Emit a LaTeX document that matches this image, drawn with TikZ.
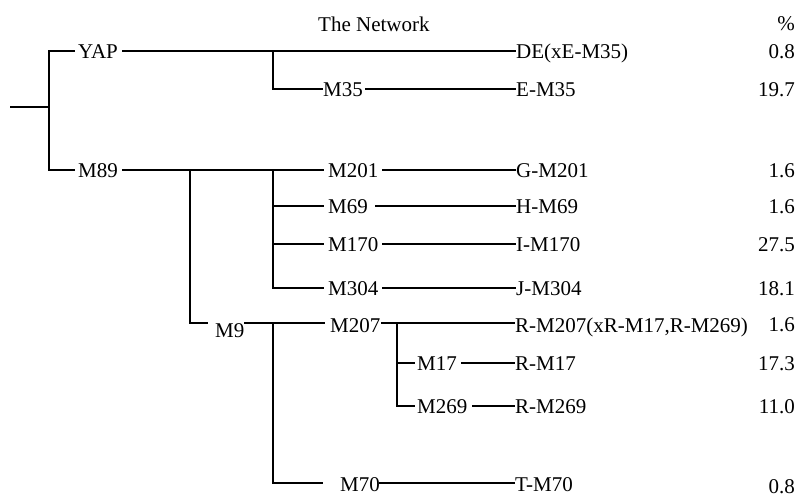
\documentclass[tikz,border=0pt]{standalone}
\usepackage{fontspec}
\setmainfont{Liberation Serif}
\begin{document}
\begin{tikzpicture}[x=1pt,y=-1pt,
  lbl/.style={inner xsep=0pt,inner ysep=0pt,text height=14pt,text depth=0pt,anchor=west,font=\fontsize{21}{25}\selectfont},
  pct/.style={inner xsep=0pt,inner ysep=0pt,text height=14pt,text depth=0pt,anchor=east,font=\fontsize{21}{25}\selectfont},
  br/.style={line width=1.6pt,line cap=rect}]
\useasboundingbox (0,0) rectangle (807,496);
% title and header
\node[lbl] (title) at (318,24) {The Network};
\node[pct] (pcthead) at (795,23) {\%};
% internal labels
\node[lbl] (YAP) at (78,51) {YAP};
\node[lbl] (M89) at (78,170) {M89};
\node[lbl] (M35) at (323,89) {M35};
\node[lbl] (M201) at (328,170) {M201};
\node[lbl] (M69) at (328,206) {M69};
\node[lbl] (M170) at (328,244) {M170};
\node[lbl] (M304) at (328,288) {M304};
\node[lbl] (M9) at (215,330) {M9};
\node[lbl] (M207) at (330,325) {M207};
\node[lbl] (M17) at (417,363) {M17};
\node[lbl] (M269) at (417,406) {M269};
\node[lbl] (M70) at (340,484) {M70};
% leaves
\node[lbl] (DE) at (516,51) {DE(xE-M35)};
\node[lbl] (EM35) at (516,89) {E-M35};
\node[lbl] (GM201) at (516,170) {G-M201};
\node[lbl] (HM69) at (516,206) {H-M69};
\node[lbl] (IM170) at (516,244) {I-M170};
\node[lbl] (JM304) at (516,288) {J-M304};
\node[lbl] (RM207) at (515,325) {R-M207(xR-M17,R-M269)};
\node[lbl] (RM17) at (515,363) {R-M17};
\node[lbl] (RM269) at (515,406) {R-M269};
\node[lbl] (TM70) at (515,484) {T-M70};
% percentages
\node[pct] (p1) at (795,51) {0.8};
\node[pct] (p2) at (795,89) {19.7};
\node[pct] (p3) at (795,170) {1.6};
\node[pct] (p4) at (795,206) {1.6};
\node[pct] (p5) at (795,244) {27.5};
\node[pct] (p6) at (795,288) {18.1};
\node[pct] (p7) at (795,324) {1.6};
\node[pct] (p8) at (795,363) {17.3};
\node[pct] (p9) at (795,406) {11.0};
\node[pct] (p10) at (795,486) {0.8};
% junction coordinates
\coordinate (root) at (11,107);
\coordinate (r0) at (49,107);
\coordinate (ra) at (49,51);
\coordinate (rb) at (49,170);
\coordinate (ya) at (273,51);
\coordinate (yb) at (273,89);
\coordinate (ma) at (190,170);
\coordinate (mb) at (190,323);
\coordinate (na) at (273,170);
\coordinate (n2) at (273,206);
\coordinate (n3) at (273,244);
\coordinate (nb) at (273,288);
\coordinate (ta) at (273,323);
\coordinate (tb) at (273,483);
\coordinate (sa) at (397,323);
\coordinate (s2) at (397,363);
\coordinate (sb) at (397,406);
% connectors
\draw[br] (root) -- (r0);
\draw[br] (ra) -- (rb);
\draw[br] (ra) -- ([xshift=-4pt]YAP.west);
\draw[br] (rb) -- ([xshift=-4pt]M89.west |- rb);
\draw[br] ([xshift=5pt]YAP.east |- ra) -- ([xshift=-1pt]DE.west |- ra);
\draw[br] (ya) -- (yb) -- ([xshift=-1pt]M35.west |- yb);
\draw[br] ([xshift=3pt]M35.east |- yb) -- ([xshift=-1pt]EM35.west |- yb);
\draw[br] ([xshift=5pt]M89.east |- rb) -- ([xshift=-5pt]M201.west |- rb);
\draw[br] ([xshift=4pt]M201.east |- rb) -- ([xshift=-1pt]GM201.west |- rb);
\draw[br] (ma) -- (mb) -- ([xshift=-8pt]M9.west |- mb);
\draw[br] (na) -- (nb) -- ([xshift=-5pt]M304.west |- nb);
\draw[br] (n2) -- ([xshift=-5pt]M69.west |- n2);
\draw[br] (n3) -- ([xshift=-5pt]M170.west |- n3);
\draw[br] ([xshift=8pt]M69.east |- n2) -- ([xshift=-1pt]HM69.west |- n2);
\draw[br] ([xshift=4pt]M170.east |- n3) -- ([xshift=-1pt]IM170.west |- n3);
\draw[br] ([xshift=4pt]M304.east |- nb) -- ([xshift=-1pt]JM304.west |- nb);
\draw[br] (M9.east |- mb) -- ([xshift=-6pt]M207.west |- mb);
\draw[br] ([xshift=1pt]M207.east |- sa) -- ([xshift=-1pt]RM207.west |- sa);
\draw[br] (ta) -- (tb) -- ([xshift=-18pt]M70.west |- tb);
\draw[br] (M70.east |- tb) -- ([xshift=-1pt]TM70.west |- tb);
\draw[br] (sa) -- (sb) -- ([xshift=-3pt]M269.west |- sb);
\draw[br] (s2) -- ([xshift=-3pt]M17.west |- s2);
\draw[br] ([xshift=5pt]M17.east |- s2) -- ([xshift=-1pt]RM17.west |- s2);
\draw[br] ([xshift=5pt]M269.east |- sb) -- ([xshift=-1pt]RM269.west |- sb);
\end{tikzpicture}
\end{document}
